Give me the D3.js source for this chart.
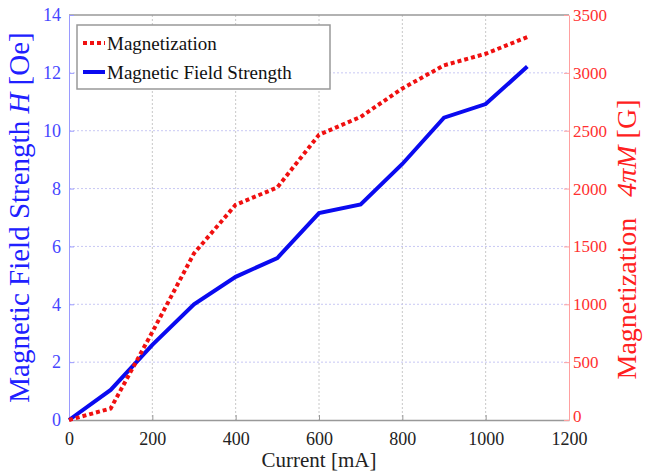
<!DOCTYPE html>
<html>
<head>
<meta charset="utf-8">
<script src="https://cdn.jsdelivr.net/npm/d3@7"></script>
<style>
  body { margin: 0; background: #fff; }
</style>
</head>
<body>
<div id="chart"></div>
<script>
var current = [0, 100, 200, 300, 400, 500, 600, 700, 800, 900, 1000, 1100];
var fieldH = [0, 1.04, 2.6, 4.0, 4.95, 5.6, 7.15, 7.45, 8.85, 10.45, 10.92, 12.22];
var magnet = [0, 100, 760, 1440, 1860, 2010, 2465, 2620, 2865, 3065, 3165, 3310];
var xTicks = [0, 200, 400, 600, 800, 1000, 1200];
var leftTicks = [0, 2, 4, 6, 8, 10, 12, 14];
var rightTicks = [0, 500, 1000, 1500, 2000, 2500, 3000, 3500];

var serif = "'Liberation Serif', 'DejaVu Serif', serif";
var W = 647, H = 473;
var margin = {top: 15, right: 78, bottom: 53, left: 69};
var w = W - margin.left - margin.right,
    h = H - margin.top - margin.bottom;

var svg = d3.select("#chart").append("svg")
  .attr("width", W).attr("height", H)
  .append("g")
  .attr("transform", "translate(" + margin.left + "," + margin.top + ")");

var x = d3.scaleLinear().domain([0, 1200]).range([0, w]);
var yL = d3.scaleLinear().domain([0, 14]).range([h, 0]);
var yR = d3.scaleLinear().domain([0, 3500]).range([h, 0]);

// grid
svg.selectAll(".vgrid").data(xTicks.slice(1, -1)).enter().append("line")
  .attr("x1", d => x(d)).attr("x2", d => x(d))
  .attr("y1", 0).attr("y2", h)
  .attr("stroke", "#c8c8c8").attr("stroke-dasharray", "2,2");
svg.selectAll(".hgrid").data(leftTicks.slice(1, -1)).enter().append("line")
  .attr("x1", 0).attr("x2", w)
  .attr("y1", d => yL(d)).attr("y2", d => yL(d))
  .attr("stroke", "#c8c8f4").attr("stroke-dasharray", "2,2");

// frame top
svg.append("line").attr("x1", 0).attr("x2", w).attr("y1", 0).attr("y2", 0)
  .attr("stroke", "#999").attr("stroke-width", 1.5);

// x axis
var xa = svg.append("g")
  .attr("transform", "translate(0," + h + ")")
  .call(d3.axisBottom(x).tickValues(xTicks).tickFormat(d3.format("d")).tickSizeInner(-5).tickSizeOuter(0).tickPadding(12));
xa.select(".domain").attr("stroke", "#999").attr("stroke-width", 1.5);
xa.selectAll(".tick line").attr("stroke", "#999");
xa.selectAll("text").style("font-size", "18px").style("font-family", serif).attr("fill", "#222");

// left axis
var la = svg.append("g")
  .call(d3.axisLeft(yL).tickValues(leftTicks).tickSizeInner(-5).tickSizeOuter(0).tickPadding(8));
la.select(".domain").attr("stroke", "#9a9aff");
la.selectAll(".tick line").attr("stroke", "#9a9aff");
la.selectAll("text").style("font-size", "18px").style("font-family", serif).attr("fill", "#4646ff");

// right axis
var ra = svg.append("g")
  .attr("transform", "translate(" + w + ",0)")
  .call(d3.axisRight(yR).tickValues(rightTicks).tickFormat(d3.format("d")).tickSizeInner(-5).tickSizeOuter(0).tickPadding(4));
ra.select(".domain").attr("stroke", "#ffa0a0");
ra.selectAll(".tick line").attr("stroke", "#ffa0a0");
ra.selectAll("text").style("font-size", "17px").style("font-family", serif).attr("fill", "#ff3030");
ra.selectAll("text").filter(d => d === 0).attr("dy", "0.1em");

// lines
var lineH = d3.line().x((d, i) => x(current[i])).y(d => yL(d));
var lineM = d3.line().x((d, i) => x(current[i])).y(d => yR(d));

svg.append("path").datum(fieldH).attr("d", lineH)
  .attr("fill", "none").attr("stroke", "#0a0af0").attr("stroke-width", 4);
svg.append("path").datum(magnet).attr("d", lineM)
  .attr("fill", "none").attr("stroke", "#f01010").attr("stroke-width", 4)
  .attr("stroke-dasharray", "4,3");

// legend
var lg = svg.append("g").attr("transform", "translate(8,10)");
lg.append("rect").attr("width", 253).attr("height", 64)
  .attr("fill", "#fff").attr("stroke", "#999").attr("stroke-width", 1.5);
lg.append("line").attr("x1", 6).attr("x2", 28).attr("y1", 18).attr("y2", 18)
  .attr("stroke", "#f01010").attr("stroke-width", 4).attr("stroke-dasharray", "4,3");
lg.append("line").attr("x1", 6).attr("x2", 28).attr("y1", 47).attr("y2", 47)
  .attr("stroke", "#0a0af0").attr("stroke-width", 4);
lg.append("text").attr("x", 30).attr("y", 25).style("font-size", "19px").style("font-family", serif)
  .attr("fill", "#111").text("Magnetization");
lg.append("text").attr("x", 30).attr("y", 54).style("font-size", "19px").style("font-family", serif)
  .attr("fill", "#111").text("Magnetic Field Strength");

// axis titles
svg.append("text")
  .attr("x", w / 2).attr("y", h + 47)
  .attr("text-anchor", "middle").style("font-size", "21px").style("font-family", serif)
  .attr("fill", "#222").text("Current [mA]");

var lt = svg.append("text")
  .attr("transform", "translate(-40," + (h / 2) + ") rotate(-90)")
  .attr("text-anchor", "middle").style("font-size", "29px").style("font-family", serif)
  .attr("fill", "#2020ff");
lt.append("tspan").text("Magnetic  Field Strength ");
lt.append("tspan").attr("font-style", "italic").text("H");
lt.append("tspan").text(" [Oe]");

var rt = svg.append("text")
  .attr("transform", "translate(" + (w + 67) + "," + (h / 2 + 22) + ") rotate(-90)")
  .attr("text-anchor", "middle").style("font-size", "28px").style("font-family", serif)
  .attr("fill", "#ff2020");
rt.append("tspan").text("Magnetization\u00A0\u00A0\u00A0");
rt.append("tspan").attr("font-style", "italic").text("4\u03C0M");
rt.append("tspan").text(" [G]");
</script>
</body>
</html>
